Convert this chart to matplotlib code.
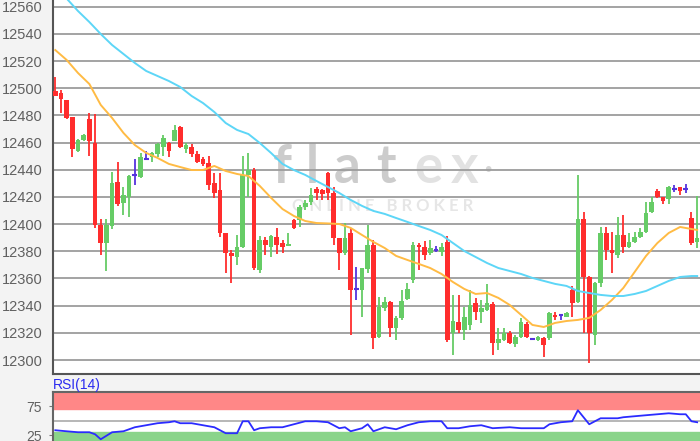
import numpy as np
import matplotlib.pyplot as plt

# OHLC per candle (index 0..113)
opens = [12498, 12496.3, 12491.3, 12478.6, 12454, 12461.9, 12477.1, 12459.4, 12399.4, 12385.9,
         12398.9, 12431, 12415.3, 12419.7, 12436.2, 12434.5, 12448.2, 12449.2, 12451.6, 12457,
         12459.4, 12461.4, 12471.7, 12455.6, 12457.1, 12451.6, 12447.7, 12444.7, 12430.5, 12424.8,
         12393.3, 12378.5, 12376, 12383.4, 12436.2, 12439.8, 12366.3, 12388.3, 12383.4, 12390.8,
         12386, 12384.2, 12403, 12403, 12412.6, 12416.4, 12425.6, 12424.8, 12437.4, 12422.7,
         12389.6, 12378.5, 12393.3, 12352, 12351.5, 12366.8, 12384.7, 12317.1, 12338, 12343,
         12323.3, 12330.7, 12344.7, 12358.9, 12384.7, 12383, 12378.5, 12381, 12379.5, 12386.9,
         12319.6, 12328.2, 12322.1, 12325.8, 12341.8, 12335.6, 12336.8, 12341.3, 12312.3, 12314.7,
         12320.1, 12311.8, 12317.2, 12326.5, 12315.3, 12314.7, 12316, 12316, 12333.2, 12333.2,
         12331.9, 12351.5, 12342.9, 12403.6, 12361.3, 12318.4, 12356.9, 12393.3, 12381, 12377.3,
         12392, 12383.4, 12387.1, 12390.3, 12394.4, 12408.7, 12424.6, 12419.7, 12418.3, 12425.9,
         12427.1, 12425.9, 12404.3, 12387.1]
highs = [12508, 12498.6, 12491.5, 12478.8, 12462.4, 12466.3, 12482, 12481, 12403.6, 12403.6,
         12438.6, 12446, 12427.5, 12436.2, 12447.7, 12452.6, 12454, 12453, 12460, 12465.6,
         12460.4, 12473.2, 12472.4, 12459.4, 12459, 12453.5, 12449.6, 12450, 12437.4, 12437.4,
         12393.5, 12381, 12392, 12450.1, 12452, 12441.3, 12391.2, 12390.8, 12392, 12397,
         12388.3, 12393.3, 12403.5, 12414.1, 12417.8, 12426.4, 12427, 12426, 12438, 12427.5,
         12389.8, 12400.6, 12397.2, 12368.2, 12368, 12399.4, 12388.3, 12346.6, 12346.6, 12343.5,
         12332.5, 12351.5, 12356.4, 12386.9, 12386, 12387.3, 12388, 12384, 12386, 12391.3,
         12347.9, 12347.9, 12339.2, 12351.5, 12345.4, 12344.2, 12356, 12342.7, 12323.4, 12323.4,
         12321.4, 12318.4, 12330.7, 12328.2, 12316.2, 12317.7, 12317, 12335.6, 12335.6, 12333.5,
         12335.6, 12354.5, 12436.2, 12409.2, 12362, 12357.5, 12398.1, 12398.1, 12394.4, 12405.5,
         12406.7, 12393.3, 12394.4, 12397.2, 12416.5, 12419.7, 12425.6, 12420.2, 12428.1, 12428.8,
         12427.5, 12429.5, 12409.2, 12420.7]
lows = [12494, 12481.6, 12477.2, 12449.6, 12453.3, 12461.4, 12450, 12397.2, 12377.3, 12365.7,
        12396.2, 12413, 12406.7, 12405.5, 12428.8, 12434, 12447.7, 12446, 12449.6, 12450,
        12449.6, 12461, 12456, 12452, 12449.6, 12445, 12443, 12425.1, 12419.2, 12390.8,
        12363.8, 12356.5, 12369.9, 12382.4, 12420, 12366.3, 12364.3, 12377.3, 12376, 12378,
        12378.5, 12384, 12396.4, 12398.1, 12410.4, 12414.1, 12417.8, 12417.8, 12417.8, 12384.3,
        12366.3, 12377.3, 12318.4, 12344.2, 12332, 12363.8, 12307.8, 12315.9, 12336, 12317.1,
        12314.7, 12329.5, 12344.2, 12356.4, 12366.3, 12373.6, 12377.3, 12379.5, 12376.5, 12313.5,
        12304, 12320, 12314.7, 12322.1, 12329.5, 12327, 12336, 12303.7, 12307.4, 12314,
        12311.8, 12309.8, 12316.2, 12316.2, 12314.7, 12314, 12302.5, 12314.7, 12329.5, 12329.5,
        12331.7, 12331.9, 12341.8, 12319.7, 12298.1, 12311.1, 12354, 12373.6, 12363.8, 12374.9,
        12378.5, 12382.4, 12386.1, 12389.8, 12393.8, 12408.2, 12419.2, 12414.8, 12414.8, 12423.4,
        12421.4, 12422.7, 12384.7, 12382.2]
closes = [12494.5, 12491.9, 12477.9, 12455.5, 12461.9, 12465.8, 12461.4, 12399.4, 12385.9, 12399.4,
          12430, 12414.8, 12421.7, 12435.4, 12436.2, 12449.2, 12448.2, 12452.6, 12459, 12463.2,
          12454, 12469.5, 12456.5, 12458, 12451.6, 12446, 12444.2, 12428.8, 12422.7, 12393.3,
          12378.5, 12376.7, 12383.4, 12436.2, 12439.8, 12367.6, 12388.3, 12384.7, 12391.2, 12384.7,
          12383.4, 12385.2, 12396.9, 12412.6, 12415.5, 12421.4, 12423.1, 12422.4, 12422.7, 12389.6,
          12378.5, 12389.6, 12351.5, 12352, 12367.6, 12384.7, 12315.9, 12339.2, 12343, 12323.3,
          12330.7, 12343.7, 12352, 12384.7, 12383, 12377.3, 12382.2, 12381, 12382.9, 12314.7,
          12328.9, 12322.1, 12331.9, 12340.5, 12335.6, 12338.1, 12341.8, 12312.3, 12315.3, 12320.1,
          12312.3, 12316.7, 12328.2, 12316.7, 12315.3, 12316.7, 12311.1, 12334.4, 12331.9, 12333.2,
          12334.4, 12341.8, 12403.6, 12361.3, 12319.7, 12356.9, 12393.3, 12381, 12378.5, 12392,
          12383.4, 12387.1, 12390.8, 12394.4, 12408.4, 12416.5, 12419.7, 12417.3, 12427.6, 12425.9,
          12424.6, 12425.9, 12385.9, 12389.6]

# moving averages, sampled every second candle
ma_idx = list(range(0, 113, 2)) + [113]
ma_fast = [12528.1, 12520.8, 12511.2, 12503.1, 12487.7, 12478.1, 12467.1, 12458.2, 12452.4, 12448.7,
           12444.3, 12442.0, 12439.8, 12439.8, 12442.8, 12439.1, 12436.9, 12435.4, 12428.1, 12419.3,
           12411.1, 12406.0, 12402.3, 12400.8, 12400.5, 12400.1, 12397.2, 12392.0, 12386.9, 12382.4,
           12376.6, 12373.6, 12370.7, 12367.7, 12363.3, 12357.4, 12352.3, 12348.6, 12349.3, 12345.7,
           12340.5, 12333.2, 12325.8, 12324.3, 12327.3, 12328.7, 12329.5, 12331.0, 12336.8, 12344.2,
           12353.0, 12364.8, 12376.6, 12386.1, 12393.5, 12397.9, 12396.4, 12395.7]
ma_slow = [12575.0, 12566.0, 12556.8, 12548.7, 12539.9, 12531.8, 12525.2, 12518.6, 12512.7, 12509.0,
           12505.3, 12500.9, 12494.3, 12489.1, 12482.5, 12474.4, 12469.3, 12466.3, 12459.7, 12452.3,
           12444.3, 12439.8, 12436.2, 12431.7, 12427.3, 12422.9, 12417.8, 12413.4, 12409.7, 12407.5,
           12404.5, 12401.6, 12398.6, 12395.7, 12392.0, 12386.1, 12380.2, 12375.8, 12371.4, 12367.7,
           12365.5, 12363.3, 12360.4, 12358.2, 12356.0, 12354.5, 12350.8, 12349.3, 12347.9, 12347.1,
           12347.1, 12348.6, 12350.8, 12354.5, 12358.2, 12361.1, 12361.8, 12361.8]

rsi_idx = [0, 2, 4, 6, 7, 8, 10, 12, 14, 16, 18, 20, 21, 22, 24, 26, 28, 30, 32, 33,
           34, 35, 36, 38, 40, 42, 44, 46, 48, 49, 50, 51, 52, 54, 55, 56, 58, 60, 62, 64,
           66, 68, 69, 71, 73, 75, 77, 80, 82, 86, 87, 89, 91, 92, 94, 96, 99, 100, 104, 106,
           108, 110, 111, 112, 113]
rsi_vals = [33.5, 31.7, 30, 30, 26.5, 17.8, 30, 31.7, 38.7, 42.2, 45.7, 47.4, 49.1, 45.7, 45.7, 42.2, 38.7, 28.3, 28.3, 49.1,
            49.1, 33.5, 37, 38.7, 38.7, 43.9, 49.1, 49.1, 47.4, 42.2, 37, 38.7, 31.7, 37, 43.9, 31.7, 38.7, 35.2, 42.2, 47.4,
            49.1, 49.1, 37, 37, 40.4, 42.2, 37, 38.7, 37, 37, 43.9, 47.4, 49.1, 68.3, 43.9, 54.3, 54.3, 56.1, 59.6, 61.3,
            63, 61.3, 61.3, 49.1, 47.4]

price_ticks = list(range(12300, 12561, 20))

UP = '#66cc66'
DOWN = '#ff2d2d'
DOJI = '#5533dd'

W, H = 700, 441
fig = plt.figure(figsize=(7, 4.41), dpi=100, facecolor='#f3f3f3')
ax = fig.add_axes([53/W, (H-374)/H, (W-53)/W, 374/H])
rax = fig.add_axes([53/W, (H-449.5)/H, (W-53)/W, 57.5/H])

o = np.array(opens); h = np.array(highs); l = np.array(lows); c = np.array(closes)
idx = np.arange(len(o))
up = c > o
down = c < o
doji = c == o

ax.vlines(idx[up], l[up], h[up], color=UP, lw=1.3, zorder=2)
ax.vlines(idx[down], l[down], h[down], color=DOWN, lw=1.3, zorder=2)
ax.vlines(idx[doji], l[doji], h[doji], color=DOJI, lw=1.3, zorder=2)
ax.bar(idx[up], np.maximum(c[up]-o[up], 0.8), bottom=o[up], width=0.82, color=UP, zorder=3)
ax.bar(idx[down], np.maximum(o[down]-c[down], 0.8), bottom=c[down], width=0.82, color=DOWN, zorder=3)
ax.hlines(o[doji], idx[doji]-0.41, idx[doji]+0.41, color=DOJI, lw=1.5, zorder=3)

ax.plot(ma_idx, ma_fast, color='#ffbb44', lw=1.4, zorder=4)
ax.plot(ma_idx, ma_slow, color='#5dd6f7', lw=1.4, zorder=4)

ax.set_xlim(-0.405, 113.5)
ax.set_ylim(12289.7, 12564.93)
ax.set_yticks(price_ticks)
ax.set_xticks([])
ax.set_axisbelow(True)
ax.grid(axis='y', color='#9c9c9c', lw=1.3)
ax.tick_params(axis='y', length=0, pad=7.5, labelsize=10.5, labelcolor='#606060')
for t in ax.get_yticklabels():
    t.set_fontfamily('Liberation Sans')
for s in ['top', 'right']:
    ax.spines[s].set_visible(False)
for s in ['left', 'bottom']:
    ax.spines[s].set_color('#555555')
    ax.spines[s].set_linewidth(1.5)

# watermark
tf = fig.transFigure
letters = [('f', 282, '#cccccc'), ('l', 312, '#cccccc'), ('a', 347, '#cccccc'), ('t', 386, '#cccccc'),
           ('e', 428, '#e2e2e2'), ('x', 465, '#e2e2e2')]
for ch, px, col in letters:
    ax.text(px/W, (H-183)/H, ch, transform=tf, ha='center', va='baseline', fontsize=38,
            family='Lato', fontweight='bold', color=col, zorder=0.2)
ax.text(488/W, (H-170)/H, '\u2022', transform=tf, ha='center', va='center', fontsize=14,
        family='DejaVu Sans', color='#d4d4d4', zorder=0.2)
ax.text(383/W, (H-206)/H, 'O N L I N E   B R O K E R', transform=tf, ha='center', va='center',
        fontsize=12, family='Lato', fontweight='bold', color='#e6e6e6', zorder=0.2)

# RSI panel
rax.axhspan(70, 100, color='#ff8787', zorder=0)
rax.axhspan(0, 30, color='#8ad48a', zorder=0)
rax.axhline(50, color='#aaaaaa', lw=1.2, zorder=1)
rax.plot(rsi_idx, rsi_vals, color='#2b2bff', lw=1.3, zorder=2)
rax.set_xlim(-0.405, 113.5)
rax.set_ylim(0, 100)
rax.set_yticks([25, 75])
rax.set_xticks([])
rax.tick_params(axis='y', length=3, pad=5, labelsize=10, labelcolor='#606060', color='#777777')
for t in rax.get_yticklabels():
    t.set_fontfamily('Liberation Sans')
for s in ['right', 'bottom']:
    rax.spines[s].set_visible(False)
for s in ['left', 'top']:
    rax.spines[s].set_color('#666666')
    rax.spines[s].set_linewidth(1.5)
fig.text(53/W, (H-385)/H, 'RSI(14)', color='#2a2af0', fontsize=10, family='Liberation Sans',
         ha='left', va='center')

fig.savefig('out.png', dpi=100, facecolor=fig.get_facecolor())
